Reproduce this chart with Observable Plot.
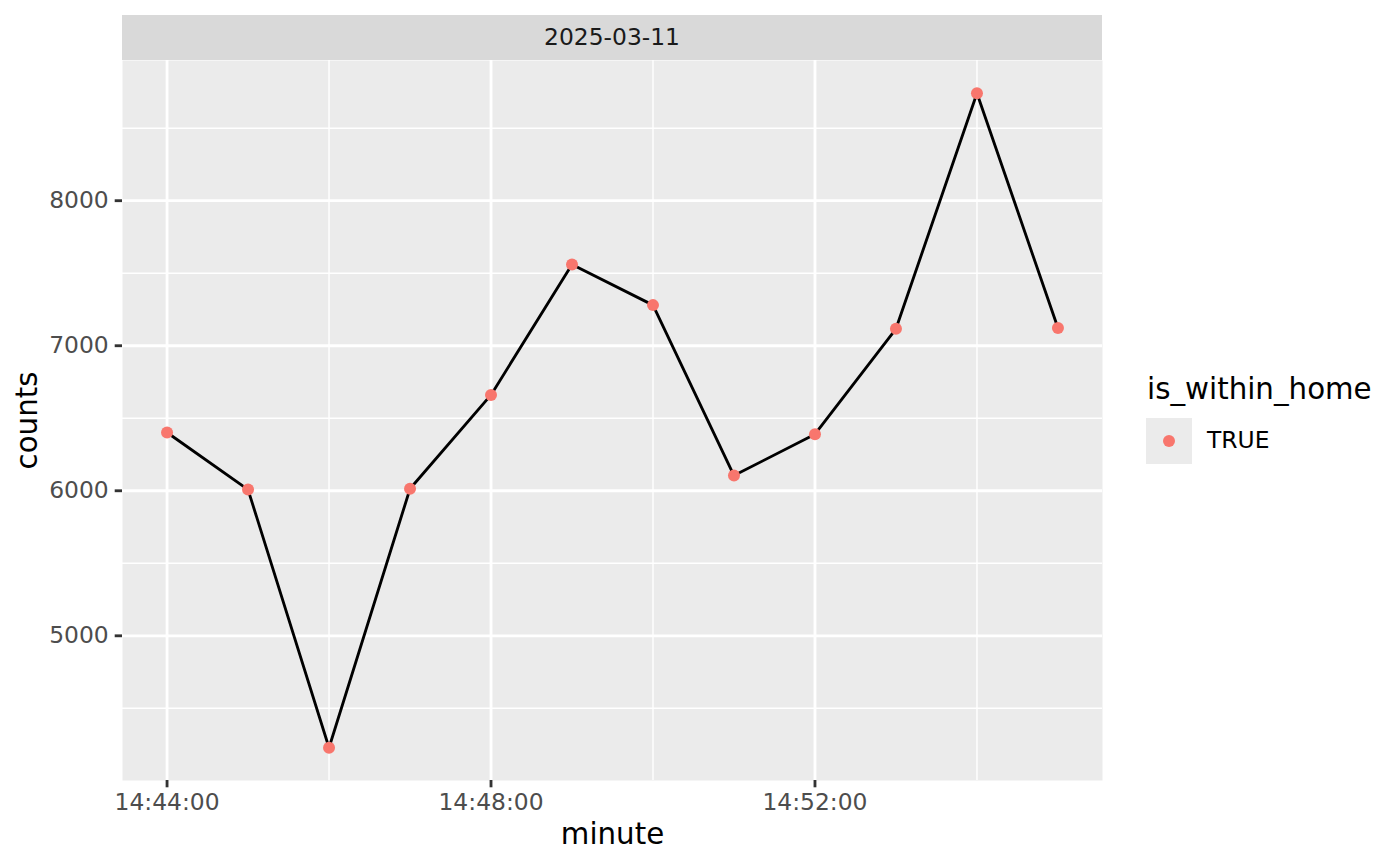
<!DOCTYPE html>
<html>
<head>
<meta charset="utf-8">
<script src="https://cdn.jsdelivr.net/npm/d3@7"></script>
<script src="https://cdn.jsdelivr.net/npm/@observablehq/plot@0.6"></script>
<style>
  html, body { margin: 0; padding: 0; background: #ffffff; }
  #wrap { position: relative; width: 1400px; height: 865px; font-family: "DejaVu Sans", sans-serif; }
  #wrap svg { position: absolute; left: 0; top: 0; }
  #strip { position: absolute; left: 122px; top: 15px; width: 980px; height: 45px; background: #D9D9D9;
           color: #1A1A1A; font-size: 23.4px; line-height: 45px; text-align: center; }
  #legtitle { position: absolute; left: 1147px; top: 375.2px; font-size: 29.3px; line-height: 1; color: #000; white-space: nowrap; }
  #legkey { position: absolute; left: 1146px; top: 418px; width: 46px; height: 46px; background: #EBEBEB; }
  #legkey span { position: absolute; left: 17px; top: 17px; width: 12px; height: 12px; border-radius: 50%; background: #F8766D; }
  #leglabel { position: absolute; left: 1207px; top: 429.2px; font-size: 23.4px; line-height: 1; color: #000; }
</style>
</head>
<body>
<div id="wrap"></div>
<script>
// ---- data ----
const day = "2025-03-11";
const minutes = ["14:44", "14:45", "14:46", "14:47", "14:48", "14:49", "14:50", "14:51", "14:52", "14:53", "14:54", "14:55"];
const counts = [6402, 6008, 4228, 6014, 6661, 7560, 7280, 6105, 6390, 7117, 8741, 7122];
const xMajorTicks = ["14:44", "14:48", "14:52"];
const xMinorTicks = ["14:46", "14:50", "14:54"];
const yMajorTicks = [5000, 6000, 7000, 8000];
const yMinorTicks = [4500, 5500, 6500, 7500, 8500];
const legendTitle = "is_within_home";
const legendLabel = "TRUE";
const xTitle = "minute";
const yTitle = "counts";

const toDate = m => new Date(`${day}T${m}:00Z`);
const data = minutes.map((m, i) => ({minute: toDate(m), counts: counts[i]}));

// ggplot-style 5% expansion
const xExt = d3.extent(data, d => d.minute);
const xPad = (xExt[1] - xExt[0]) * 0.05;
const yExt = d3.extent(data, d => d.counts);
const yPad = (yExt[1] - yExt[0]) * 0.05;

const chart = Plot.plot({
  width: 1400,
  height: 865,
  marginLeft: 122,
  marginRight: 298,
  marginTop: 60,
  marginBottom: 85,
  style: {fontFamily: "DejaVu Sans", background: "transparent", overflow: "visible"},
  x: {type: "utc", domain: [new Date(+xExt[0] - xPad), new Date(+xExt[1] + xPad)]},
  y: {domain: [yExt[0] - yPad, yExt[1] + yPad]},
  marks: [
    Plot.frame({fill: "#EBEBEB", stroke: "none"}),
    Plot.ruleY(yMinorTicks, {stroke: "#ffffff", strokeWidth: 1.42}),
    Plot.ruleX(xMinorTicks.map(toDate), {stroke: "#ffffff", strokeWidth: 1.42}),
    Plot.ruleY(yMajorTicks, {stroke: "#ffffff", strokeWidth: 2.84}),
    Plot.ruleX(xMajorTicks.map(toDate), {stroke: "#ffffff", strokeWidth: 2.84}),
    Plot.axisX(xMajorTicks.map(toDate), {
      tickSize: 7.3, tickPadding: 5.5, fontSize: 23.4, stroke: "#333333", strokeWidth: 2.84,
      fill: "#4D4D4D", tickFormat: d3.utcFormat("%H:%M:%S"), label: null
    }),
    Plot.axisY(yMajorTicks, {
      tickSize: 7.3, tickPadding: 6.5, fontSize: 23.4, stroke: "#333333", strokeWidth: 2.84,
      fill: "#4D4D4D", tickFormat: d => String(d), label: null
    }),
    Plot.line(data, {x: "minute", y: "counts", stroke: "#000000", strokeWidth: 2.84}),
    Plot.dot(data, {x: "minute", y: "counts", r: 6, fill: "#F8766D", stroke: "none"}),
    Plot.text([xTitle], {frameAnchor: "bottom", dy: 63, textAnchor: "middle", lineAnchor: "bottom", fontSize: 29.3, fill: "#000000"}),
    Plot.text([yTitle], {frameAnchor: "left", dx: -86, rotate: -90, textAnchor: "middle", lineAnchor: "bottom", fontSize: 29.3, fill: "#000000"})
  ]
});

const wrap = document.getElementById("wrap");
wrap.appendChild(chart);

const strip = document.createElement("div");
strip.id = "strip";
strip.textContent = day;
wrap.appendChild(strip);

const lt = document.createElement("div");
lt.id = "legtitle";
lt.textContent = legendTitle;
wrap.appendChild(lt);

const lk = document.createElement("div");
lk.id = "legkey";
lk.appendChild(document.createElement("span"));
wrap.appendChild(lk);

const ll = document.createElement("div");
ll.id = "leglabel";
ll.textContent = legendLabel;
wrap.appendChild(ll);
</script>
</body>
</html>
